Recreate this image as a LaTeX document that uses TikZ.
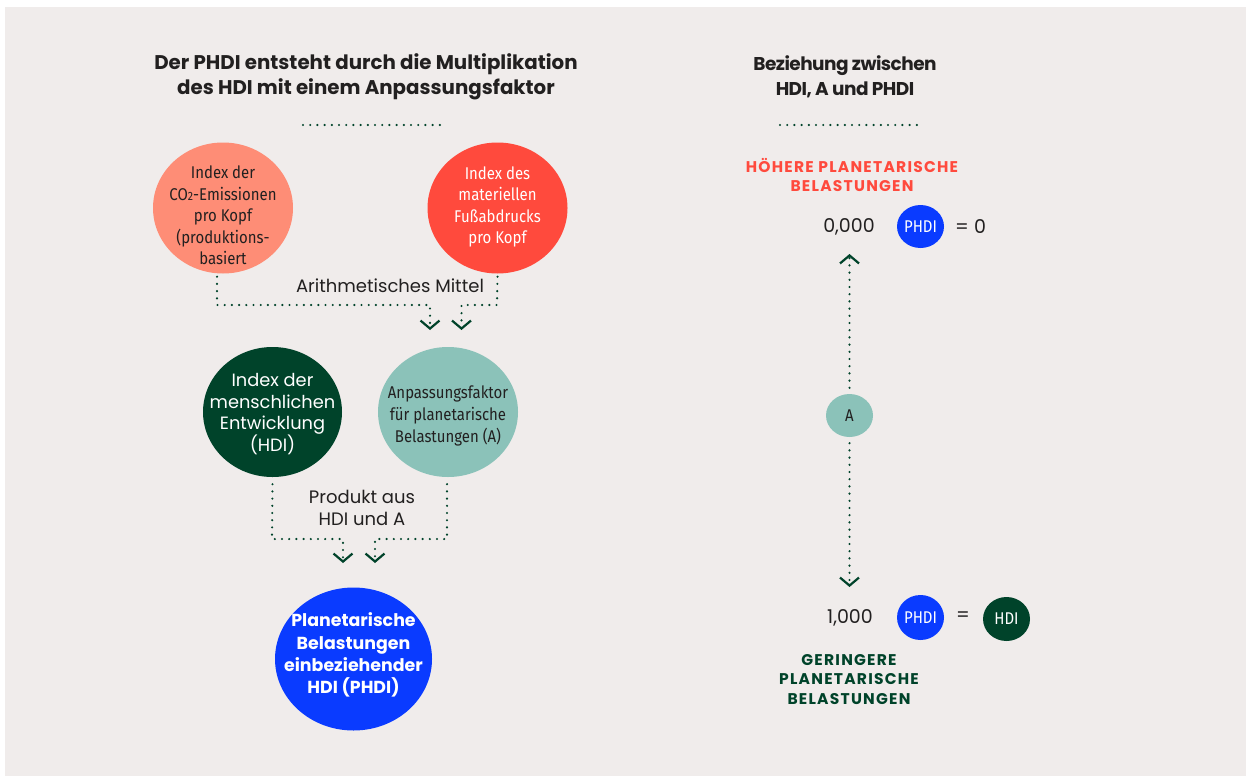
\documentclass[tikz,border=0pt]{standalone}
\usepackage{fontspec}
\setmainfont{Poppins}
\newfontfamily\condfont[FakeStretch=0.88]{Fira Sans}
\newfontfamily\capsfont[LetterSpace=8]{Poppins}
\newfontfamily\tightfont[LetterSpace=-3]{Poppins}
\usetikzlibrary{shapes.geometric,arrows.meta,calc}
\definecolor{bg}{HTML}{F0ECEB}
\definecolor{salmon}{HTML}{FE8D76}
\definecolor{tomato}{HTML}{FF4A3D}
\definecolor{dgreen}{HTML}{00432A}
\definecolor{tealc}{HTML}{8BC2B9}
\definecolor{phblue}{HTML}{0A3BFF}
\definecolor{ink}{HTML}{222020}
\tikzset{
  blob/.style={ellipse, inner sep=0pt, draw=none},
  condtxt/.style={font=\condfont\fontsize{17}{21.6}\selectfont, align=center, inner sep=0pt},
  smallcond/.style={font=\condfont\fontsize{17}{17}\selectfont},
  bodytxt/.style={font=\fontsize{18}{21.8}\selectfont, align=center, inner sep=0pt, text=ink},
  titletxt/.style={font=\fontsize{19.8}{25}\selectfont\bfseries, align=center, inner sep=0pt, text=ink},
  capstxt/.style={font=\capsfont\fontsize{15.5}{19.5}\selectfont\bfseries, align=center, inner sep=0pt},
  dotline/.style={draw=dgreen, line width=2.4pt, line cap=round, dash pattern=on 0pt off 7.2pt},
  chev/.style={-{Straight Barb[length=8pt,width=19pt,line width=2.2pt]}},
}
\begin{document}
\begin{tikzpicture}[x=1pt,y=-1pt]
\useasboundingbox (0,0) rectangle (1246,776);
\fill[bg] (5,7) rectangle (1246,776);

% ---------- titles ----------
\node[titletxt] (lt) at (366,76.5) {Der PHDI entsteht durch die Multiplikation\\des HDI mit einem Anpassungsfaktor};
\node[titletxt, font=\tightfont\fontsize{18.5}{25}\selectfont\bfseries] (rt) at (845,76.5) {Beziehung zwischen\\HDI, A und PHDI};
\coordinate (ld1) at (303,125); \coordinate (ld2) at (445,125);
\draw[dotline] (ld1) -- (ld2);
\coordinate (rd1) at (780,125); \coordinate (rd2) at (920,125);
\draw[dotline] (rd1) -- (rd2);

% ---------- top circles ----------
\node[blob, fill=salmon, minimum width=140pt, minimum height=131pt] (co2) at (223,208) {};
\node[condtxt, text=ink] (co2t) at (223,215.5) {Index der\\CO{\fontsize{12}{12}\selectfont 2}-Emissionen\\pro Kopf\\(produktions-\\basiert};
\node[blob, fill=tomato, minimum width=140pt, minimum height=131pt] (mat) at (497.5,208) {};
\node[condtxt, text=white] (matt) at (497.5,207) {Index des\\materiellen\\Fu\ss abdrucks\\pro Kopf};

\node[bodytxt] (arith) at (390,286) {Arithmetisches Mittel};

% ---------- middle circles ----------
\node[blob, fill=dgreen, minimum width=139pt, minimum height=130pt] (hdi) at (272.5,412) {};
\node[bodytxt, text=white, font=\fontsize{17.8}{21.7}\selectfont] (hdit) at (272.5,414) {Index der\\menschlichen\\Entwicklung\\(HDI)};
\node[blob, fill=tealc, minimum width=140pt, minimum height=130pt] (fac) at (448,412) {};
\node[condtxt, text=ink] (fact) at (448,416) {Anpassungsfaktor\\f\"ur planetarische\\Belastungen (A)};

\node[bodytxt] (prod) at (362,508) {Produkt aus\\HDI und A};

% ---------- bottom circle ----------
\node[blob, fill=phblue, minimum width=157pt, minimum height=143pt] (phdi) at (353.5,659) {};
\node[font=\fontsize{17.4}{22.2}\selectfont\bfseries, align=center, inner sep=0pt, text=white] (phdit) at (353.5,655) {Planetarische\\Belastungen\\einbeziehender\\HDI (PHDI)};

% ---------- connectors left ----------
\coordinate (j1) at (217,305);
\coordinate (e1) at (430,330);
\coordinate (j2) at (497,305);
\coordinate (e2) at (461.5,330);
\draw[dotline, chev] ($(co2.south)+(-6,3)$) -- (j1) -| (e1);
\draw[dotline, chev] ($(mat.south)+(0,3)$) -- (j2) -| (e2);

\coordinate (j3) at (272,539);
\coordinate (e3) at (343,563);
\coordinate (j4) at (447,539);
\coordinate (e4) at (375,563);
\draw[dotline, chev] ($(hdi.south)+(0,7)$) -- (j3) -| (e3);
\draw[dotline, chev] ($(fac.south)+(-1,7)$) -- (j4) -| (e4);

% ---------- right side ----------
\node[capstxt, text=tomato] (high) at (852,175) {H\"OHERE PLANETARISCHE\\BELASTUNGEN};
\node[bodytxt, font=\fontsize{19}{19}\selectfont] (n0) at (849,227) {0,000};
\node[blob, fill=phblue, minimum width=47pt, minimum height=43pt, smallcond, text=white] (p0) at (920.5,226.5) {PHDI};
\node[bodytxt, font=\fontsize{19}{19}\selectfont, anchor=west] (eq0) at (955,227) {= 0};

\node[blob, fill=tealc, minimum width=47pt, minimum height=43pt, smallcond, text=ink] (aa) at (849.5,415.5) {A};
\coordinate (up) at (849.5,254);
\coordinate (dn) at (849.5,587);
\draw[dotline, chev] ($(aa.north)+(0,-6)$) -- (up);
\draw[dotline, chev] ($(aa.south)+(0,6)$) -- (dn);

\node[bodytxt, font=\fontsize{19}{19}\selectfont] (n1) at (850,618) {1,000};
\node[blob, fill=phblue, minimum width=47pt, minimum height=45pt, smallcond, text=white] (p1) at (920.5,617.5) {PHDI};
\node[bodytxt, font=\fontsize{19}{19}\selectfont] (eq1) at (963,617) {=};
\node[blob, fill=dgreen, minimum width=47pt, minimum height=44pt, smallcond, text=white] (h1) at (1006.5,619) {HDI};

\node[capstxt, text=dgreen] (low) at (849,679.5) {GERINGERE\\PLANETARISCHE\\BELASTUNGEN};
\end{tikzpicture}
\end{document}
